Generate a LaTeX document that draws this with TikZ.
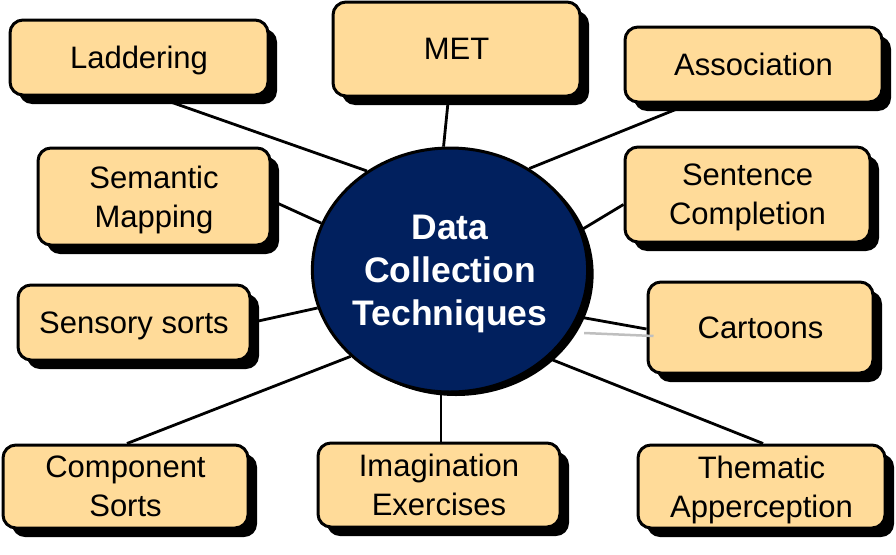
\documentclass[tikz,border=0pt]{standalone}
\usepackage{fontspec}
\setmainfont{Liberation Sans}
\usetikzlibrary{shadows,calc,backgrounds,shapes.geometric}
\definecolor{boxfill}{RGB}{255,219,153}
\definecolor{navy}{RGB}{1,32,94}
\begin{document}
\begin{tikzpicture}[x=1pt,y=-1pt,
 tbox/.style={draw=black, line width=3pt, fill=boxfill, rounded corners=13pt, align=center, inner sep=0pt,
   font=\fontsize{31}{39}\selectfont, text depth=0pt,
   drop shadow={shadow xshift=9pt, shadow yshift=-9pt, fill=black, opacity=1}},
 conn/.style={line width=2.8pt, draw=black},
 faint/.style={line width=2.5pt, draw=black!25}]
\useasboundingbox (0,0) rectangle (896,554);

\node[ellipse, draw=black, line width=3pt, fill=navy, minimum width=270pt, minimum height=244pt,
  inner sep=0pt, text=white, align=center, font=\bfseries\fontsize{35.5}{43}\selectfont, text depth=0pt,
  drop shadow={shadow xshift=6pt, shadow yshift=-4pt, fill=black, opacity=1}]
  (c) at (450,270) {Data\\Collection\\Techniques};

\node[tbox, minimum width=258pt, minimum height=75pt] (lad) at (139,57.5) {Laddering};
\node[tbox, minimum width=247pt, minimum height=94pt] (met) at (456.5,49) {MET};
\node[tbox, minimum width=257pt, minimum height=75pt] (asc) at (753.5,64.5) {Association};
\node[tbox, minimum width=232pt, minimum height=97pt] (sem) at (154,196.5) {Semantic\\Mapping};
\node[tbox, minimum width=245pt, minimum height=95pt] (sen) at (747.5,194.5) {Sentence\\Completion};
\node[tbox, minimum width=232pt, minimum height=75pt] (sns) at (134,322.5) {Sensory sorts};
\node[tbox, minimum width=225pt, minimum height=91pt] (car) at (760.5,327.5) {Cartoons};
\node[tbox, minimum width=245pt, minimum height=83pt] (cmp) at (125.5,486.5) {Component\\Sorts};
\node[tbox, minimum width=242pt, minimum height=84pt] (img) at (439,485) {Imagination\\Exercises};
\node[tbox, minimum width=247pt, minimum height=83pt] (thm) at (761.5,486.5) {Thematic\\Apperception};

\begin{scope}[on background layer]
\draw[conn] ($(lad.south)+(16,0)$) -- (c.130);
\draw[conn] ($(met.south)+(-8,0)$) -- (c.93);
\draw[conn] ($(asc.south)+(-63,0)$) -- (c.52);
\draw[conn] ($(sem.east)+(0,4)$) -- (c.160);
\draw[conn] ($(sen.west)+(0,10)$) -- (c.17);
\draw[conn] (sns.east) -- (c.196);
\draw[conn] ($(car.west)+(0,1.5)$) -- (c.-20);
\draw[conn] ($(cmp.north)+(1.5,0)$) -- (c.221);
\draw[conn] ($(img.north)+(2,0)$) -- ($(c.south)+(-9,0)$);
\draw[conn] ($(thm.north)+(1.5,0)$) -- (c.-42);
\end{scope}
\coordinate (g1) at ($(c.east)+(-5,63)$);
\draw[faint] (g1) -- ($(car.west)+(7,8.5)$);
\end{tikzpicture}
\end{document}
